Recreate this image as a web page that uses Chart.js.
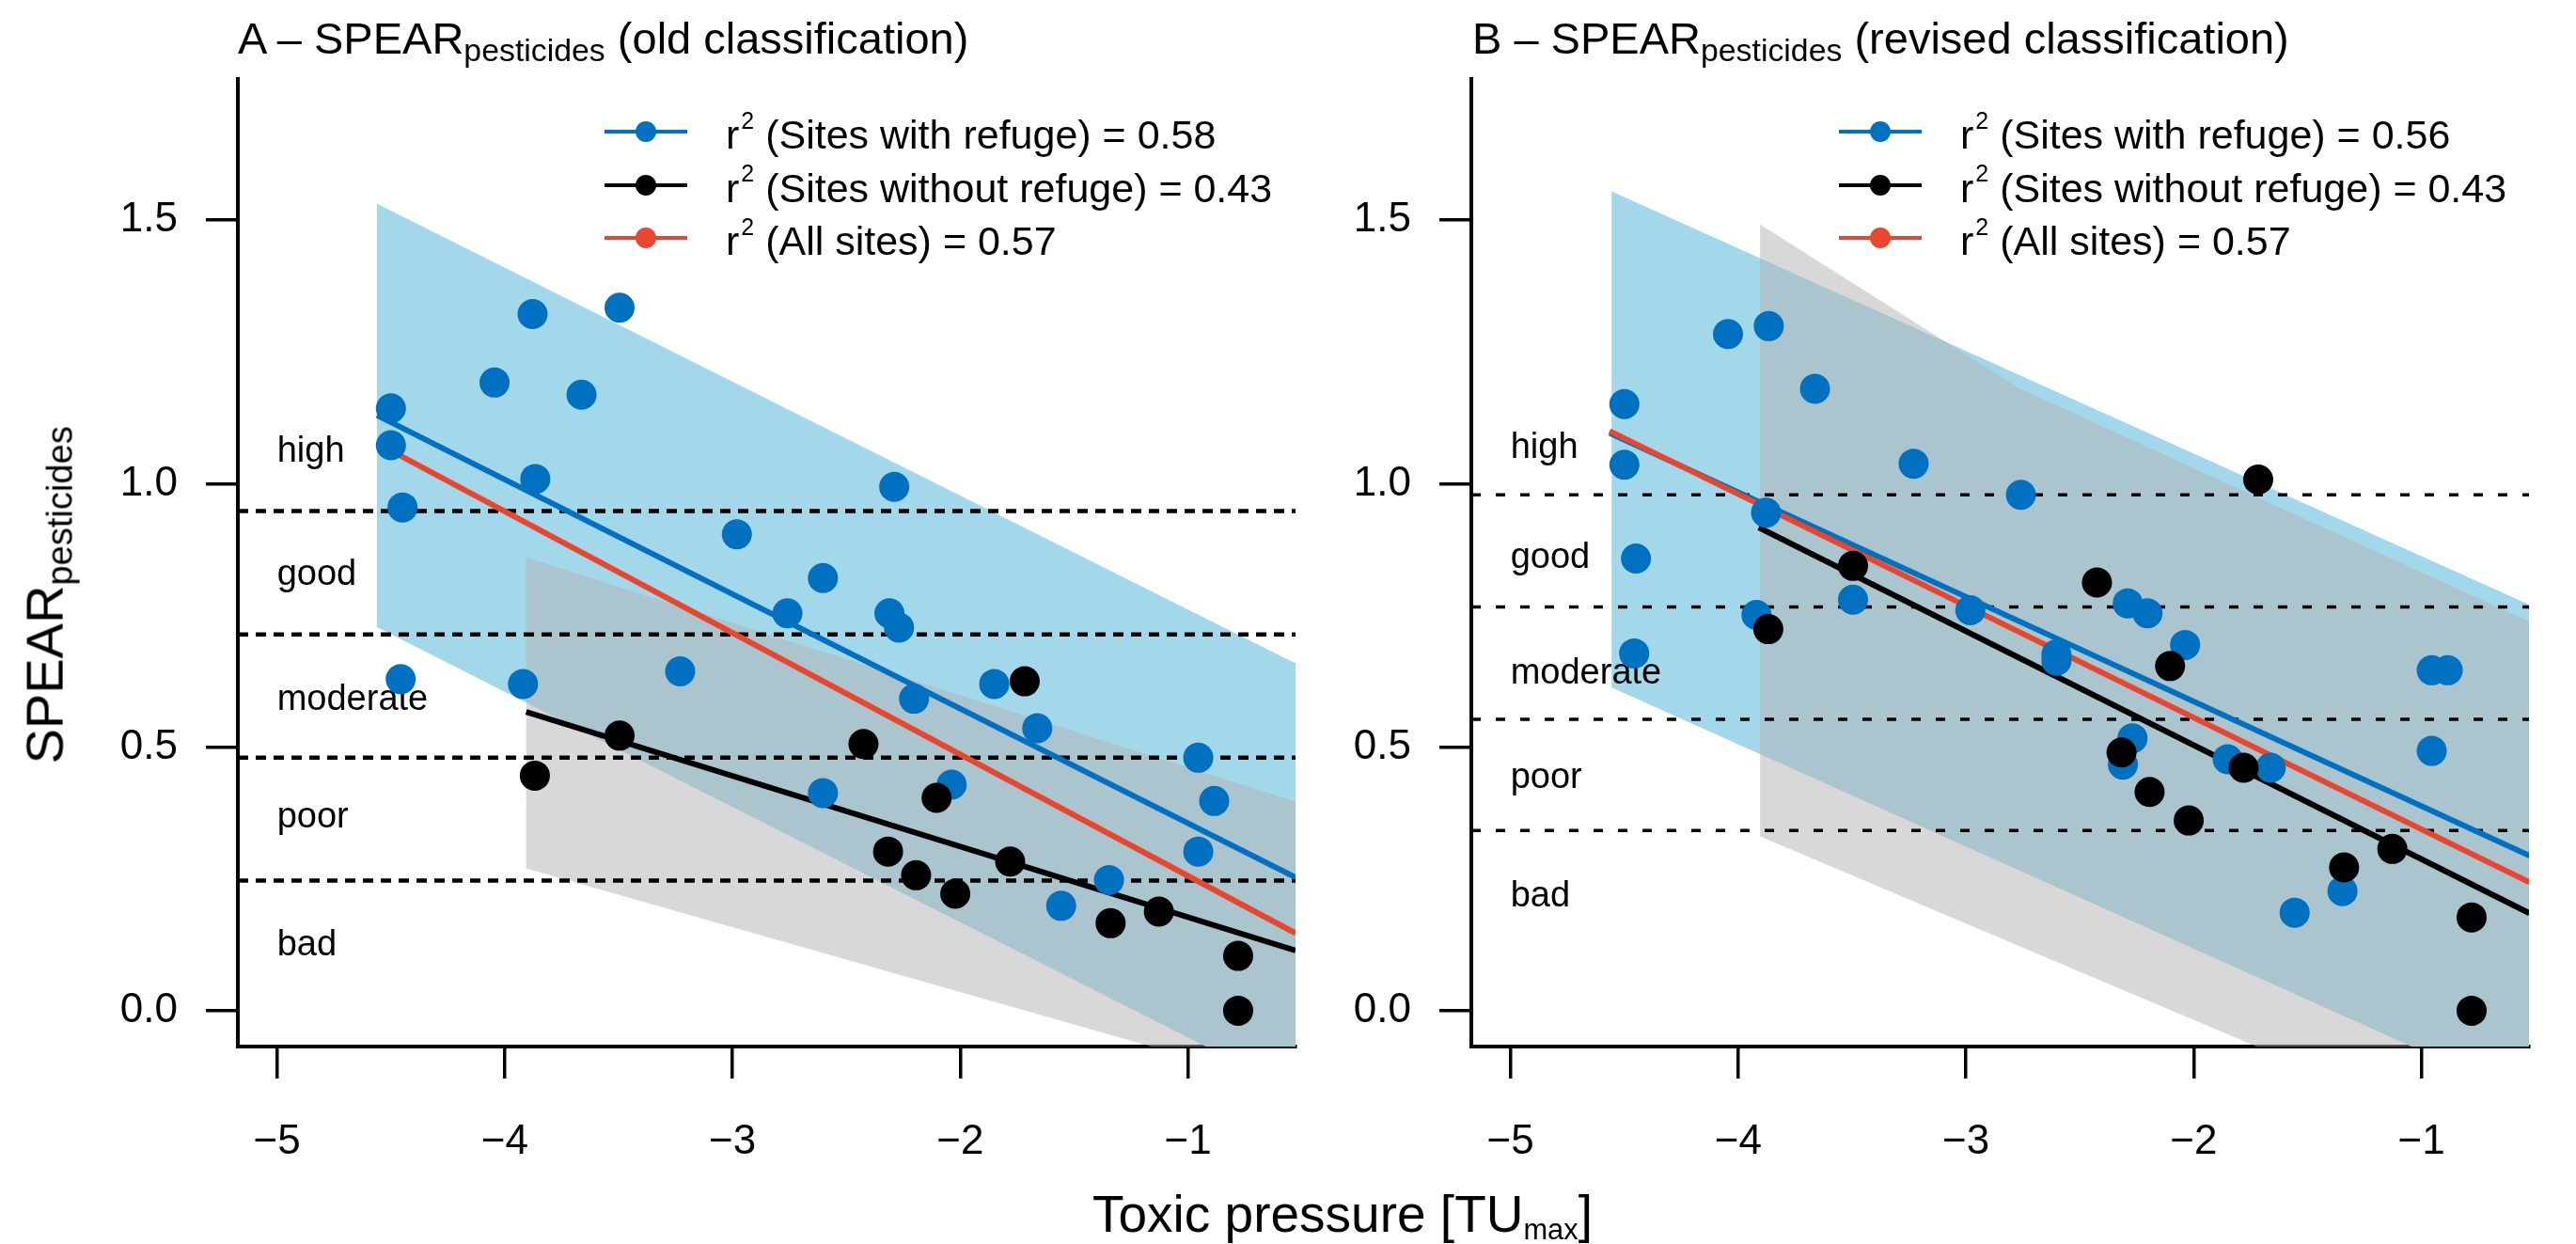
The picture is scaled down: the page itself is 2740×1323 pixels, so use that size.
<!DOCTYPE html>
<html>
<head>
<meta charset="utf-8">
<title>SPEAR pesticides vs toxic pressure</title>
<script src="https://cdn.jsdelivr.net/npm/chart.js@4.4.1/dist/chart.umd.min.js"></script>
<style>
  html, body { margin: 0; padding: 0; background: #fff; }
  body { width: 2740px; height: 1323px; position: relative; overflow: hidden;
         font-family: "Liberation Sans", Arial, Helvetica, sans-serif; color: #000; }
  canvas { position: absolute; top: 0; }
  #chartA { left: 0; }
  #chartB { left: 1400px; }
  .txt { position: absolute; line-height: 0; white-space: nowrap; }
  .txt sub, .txt sup { vertical-align: baseline; position: relative; line-height: 0; }
  .txt sub { font-size: 0.72em; top: 0.24em; }
  .txt sup { font-size: 0.58em; top: -0.85em; margin-left: 2px; }
  .xtitle sub { font-size: 0.56em; top: 0.26em; }
  .ytitle sub { font-size: 0.68em; top: 0.26em; }
  .legline { position: absolute; height: 4px; }
  .legdot { position: absolute; width: 22px; height: 22px; border-radius: 50%; }
</style>
</head>
<body>
<canvas id="chartA" width="1400" height="1323"></canvas>
<canvas id="chartB" width="1340" height="1323"></canvas>
<script>
// axes
const xTicks = [-5, -4, -3, -2, -1];
const yTicks = [0, 0.5, 1, 1.5];
const xRange = [-5.172, -0.528];
const yRange = [-0.068, 1.768];

// sites with refuge (same TUmax in both classifications)
const xRefuge = [-4.50, -4.50, -4.457, -4.449, -4.045, -3.92, -3.878, -3.866, -3.663, -3.496,
                 -3.23, -2.981, -2.759, -2.603, -2.603, -2.311, -2.29, -2.269, -2.203, -2.038,
                 -1.851, -1.662, -1.557, -1.347, -0.955, -0.955, -0.885];
const yRefugeOld = [1.143, 1.073, 0.629, 0.955, 1.192, 0.620, 1.322, 1.009, 1.169, 1.334,
                    0.644, 0.904, 0.754, 0.821, 0.413, 0.754, 0.994, 0.727, 0.592, 0.429,
                    0.620, 0.536, 0.199, 0.248, 0.480, 0.302, 0.398];
const yRefugeRevised = [1.151, 1.036, 0.678, 0.858, 1.284, 0.751, 0.945, 1.299, 1.180, 0.780,
                        1.038, 0.760, 0.979, 0.676, 0.664, 0.467, 0.773, 0.517, 0.754, 0.694,
                        0.477, 0.461, 0.186, 0.227, 0.646, 0.493, 0.646];

// sites without refuge
const xNoRefuge = [-3.868, -3.496, -2.425, -2.317, -2.194, -2.104, -2.022, -1.781, -1.717, -1.340,
                   -1.128, -0.780, -0.780];
const yNoRefugeOld = [0.446, 0.522, 0.506, 0.302, 0.257, 0.404, 0.222, 0.283, 0.625, 0.166,
                      0.188, 0.104, 0.0];
const yNoRefugeRevised = [0.724, 0.844, 0.8125, 0.490, 0.415, 0.654, 0.361, 0.461, 1.008, 0.272,
                          0.307, 0.177, 0.0];

// regression lines (end points)
const fitXRefugeA = [-4.561, -0.528];
const fitRefugeA = [1.130, 0.253];
const fitAllA = [1.077, 0.147];
const fitXNoRefugeA = [-3.906, -0.528];
const fitNoRefugeA = [0.567, 0.114];

const fitXRefugeB = [-4.565, -0.526];
const fitRefugeB = [1.096, 0.294];
const fitAllB = [1.100, 0.2435];
const fitXNoRefugeB = [-3.910, -0.526];
const fitNoRefugeB = [0.917, 0.185];

// prediction bands
const bandXRefugeA = [-4.561, -0.528];
const bandHiRefugeA = [1.531, 0.659];
const bandLoRefugeA = [0.728, -0.154];
const bandXNoRefugeA = [-3.906, -0.528];
const bandHiNoRefugeA = [0.860, 0.397];
const bandLoNoRefugeA = [0.270, -0.146];

const bandXRefugeB = [-4.556, -0.526];
const bandHiRefugeB = [1.555, 0.770];
const bandLoRefugeB = [0.613, -0.168];
const bandXNoRefugeB = [-3.904, -2.763, -0.526];
const bandHiNoRefugeB = [1.492, 1.180, 0.738];
const bandLoNoRefugeB = [0.331, 0.122, -0.287];

// ecological status classes
const classNames = ['high', 'good', 'moderate', 'poor', 'bad'];
const classBoundsA = [0.948, 0.714, 0.480, 0.247];
const classBoundsB = [0.979, 0.766, 0.553, 0.342];
const classLabelYA = [1.041, 0.808, 0.571, 0.348, 0.105];
const classLabelYB = [1.049, 0.841, 0.621, 0.422, 0.197];

// legend
const seriesNames = ['Sites with refuge', 'Sites without refuge', 'All sites'];
const r2A = [0.58, 0.43, 0.57];
const r2B = [0.56, 0.43, 0.57];

const FONT = '"Liberation Sans", Arial, Helvetica, sans-serif';
const BLUE = '#0070c0', RED = '#e8462f', BLACK = '#000000';
const BAND_BLUE = '#a3d8ea', BAND_GREY = 'rgba(178,178,178,0.5)';
const seriesColors = [BLUE, BLACK, RED];

const pts = (xs, ys) => xs.map((x, i) => ({x: x, y: ys[i]}));
const shape = (xs, hi, lo) => pts(xs, hi).concat(pts(xs, lo).reverse());
const minus = v => v < 0 ? '\u2212' + Math.abs(v) : String(v);

function lineSet(data, color, order) {
  return { data: data, borderColor: color, borderWidth: 6, pointRadius: 0, tension: 0,
           fill: false, order: order };
}
function bandSet(data, color, order) {
  return { data: data, borderColor: 'rgba(0,0,0,0)', borderWidth: 0, backgroundColor: color,
           pointRadius: 0, tension: 0, fill: 'shape', order: order };
}

function buildPanel(id, opt) {
  const datasets = [
    { data: pts(xRefuge, opt.yRefuge), showLine: false, pointRadius: 16, pointBorderWidth: 0,
      pointBackgroundColor: BLUE, order: 2 },
    { data: pts(xNoRefuge, opt.yNoRefuge), showLine: false, pointRadius: 16, pointBorderWidth: 0,
      pointBackgroundColor: BLACK, order: 1 },
    lineSet(pts(opt.fitXRefuge, opt.fitRefuge), BLUE, 6),
    lineSet(pts(opt.fitXNoRefuge, opt.fitNoRefuge), BLACK, 5),
    lineSet(pts(opt.fitXRefuge, opt.fitAll), RED, 4),
    bandSet(shape(opt.bandXNoRefuge, opt.bandHiNoRefuge, opt.bandLoNoRefuge), BAND_GREY, 8),
    bandSet(shape(opt.bandXRefuge, opt.bandHiRefuge, opt.bandLoRefuge), BAND_BLUE, 9)
  ];
  opt.bounds.forEach(b => {
    datasets.push({ data: pts(xRange, [b, b]), borderColor: BLACK, borderWidth: opt.dashWidth,
                    borderDash: opt.dash, pointRadius: 0, fill: false, order: 7 });
  });

  const classLabels = {
    id: 'classLabels',
    beforeDatasetDraw(chart, args) {
      if (args.index !== 0) return;
      const ctx = chart.ctx;
      const xs = chart.scales.x, ys = chart.scales.y;
      ctx.save();
      ctx.font = '38px ' + FONT;
      ctx.fillStyle = '#000';
      ctx.textAlign = 'left';
      ctx.textBaseline = 'alphabetic';
      classNames.forEach((name, i) => {
        ctx.fillText(name, xs.getPixelForValue(xTicks[0]), ys.getPixelForValue(opt.labelY[i]));
      });
      ctx.restore();
    }
  };

  return new Chart(document.getElementById(id), {
    type: 'line',
    data: { datasets: datasets },
    options: {
      responsive: false,
      devicePixelRatio: 1,
      animation: false,
      events: [],
      layout: { padding: { left: opt.padLeft, right: opt.padRight, top: 84, bottom: 60 } },
      plugins: { legend: { display: false }, tooltip: { enabled: false } },
      scales: {
        x: {
          type: 'linear', min: xRange[0], max: xRange[1],
          afterBuildTicks: s => { s.ticks = xTicks.map(v => ({value: v})); },
          afterFit: s => { s.height = 150; },
          grid: { drawOnChartArea: false, drawTicks: true, tickLength: 34, color: BLACK, lineWidth: 3.5 },
          border: { display: true, color: BLACK, width: 4 },
          ticks: { color: BLACK, font: { family: FONT, size: 44 }, padding: 41, maxRotation: 0,
                   autoSkip: false, callback: v => minus(v) }
        },
        y: {
          type: 'linear', min: yRange[0], max: yRange[1],
          afterBuildTicks: s => { s.ticks = yTicks.map(v => ({value: v})); },
          afterFit: s => { s.width = opt.axisWidth; },
          grid: { drawOnChartArea: false, drawTicks: true, tickLength: 34, color: BLACK, lineWidth: 3.5 },
          border: { display: true, color: BLACK, width: 4 },
          ticks: { color: BLACK, font: { family: FONT, size: 44 }, padding: 30,
                   callback: v => v.toFixed(1) }
        }
      }
    },
    plugins: [classLabels]
  });
}

buildPanel('chartA', {
  yRefuge: yRefugeOld, yNoRefuge: yNoRefugeOld,
  fitXRefuge: fitXRefugeA, fitRefuge: fitRefugeA, fitAll: fitAllA,
  fitXNoRefuge: fitXNoRefugeA, fitNoRefuge: fitNoRefugeA,
  bandXRefuge: bandXRefugeA, bandHiRefuge: bandHiRefugeA, bandLoRefuge: bandLoRefugeA,
  bandXNoRefuge: bandXNoRefugeA, bandHiNoRefuge: bandHiNoRefugeA, bandLoNoRefuge: bandLoNoRefugeA,
  bounds: classBoundsA, labelY: classLabelYA, dash: [11, 8], dashWidth: 4.5,
  axisWidth: 200, padLeft: 53, padRight: 22
});

buildPanel('chartB', {
  yRefuge: yRefugeRevised, yNoRefuge: yNoRefugeRevised,
  fitXRefuge: fitXRefugeB, fitRefuge: fitRefugeB, fitAll: fitAllB,
  fitXNoRefuge: fitXNoRefugeB, fitNoRefuge: fitNoRefugeB,
  bandXRefuge: bandXRefugeB, bandHiRefuge: bandHiRefugeB, bandLoRefuge: bandLoRefugeB,
  bandXNoRefuge: bandXNoRefugeB, bandHiNoRefuge: bandHiNoRefugeB, bandLoNoRefuge: bandLoNoRefugeB,
  bounds: classBoundsB, labelY: classLabelYB, dash: [10, 16], dashWidth: 3.5,
  axisWidth: 140, padLeft: 25, padRight: 50
});

// text outside the plot areas
const ASC = 0.3465; // baseline offset of a zero line-height box, in em
function placeText(html, x, baseline, size, cls) {
  const el = document.createElement('div');
  el.className = 'txt' + (cls ? ' ' + cls : '');
  el.innerHTML = html;
  el.style.left = x + 'px';
  el.style.top = (baseline - ASC * size) + 'px';
  el.style.fontSize = size + 'px';
  document.body.appendChild(el);
  return el;
}

placeText('A \u2013 SPEAR<sub>pesticides</sub> (old classification)', 253, 57, 47);
placeText('B \u2013 SPEAR<sub>pesticides</sub> (revised classification)', 1566, 57, 47);
placeText('Toxic pressure [TU<sub>max</sub>]', 1162, 1310, 55, 'xtitle');

const yTitle = placeText('SPEAR<sub>pesticides</sub>', 67, 812, 56, 'ytitle');
yTitle.style.transformOrigin = '0px ' + (ASC * 56) + 'px';
yTitle.style.transform = 'rotate(-90deg)';

function legend(x0, values) {
  const rowY = [140, 196.5, 253];
  seriesNames.forEach((name, i) => {
    const line = document.createElement('div');
    line.className = 'legline';
    line.style.left = x0 + 'px';
    line.style.width = '88px';
    line.style.top = (rowY[i] - 2) + 'px';
    line.style.background = seriesColors[i];
    document.body.appendChild(line);
    const dot = document.createElement('div');
    dot.className = 'legdot';
    dot.style.left = (x0 + 44 - 11) + 'px';
    dot.style.top = (rowY[i] - 11) + 'px';
    dot.style.background = seriesColors[i];
    document.body.appendChild(dot);
    placeText('r<sup>2</sup> (' + name + ') = ' + values[i].toFixed(2), x0 + 129, rowY[i] + 18, 43);
  });
}
legend(643, r2A);
legend(1956, r2B);
</script>
</body>
</html>
